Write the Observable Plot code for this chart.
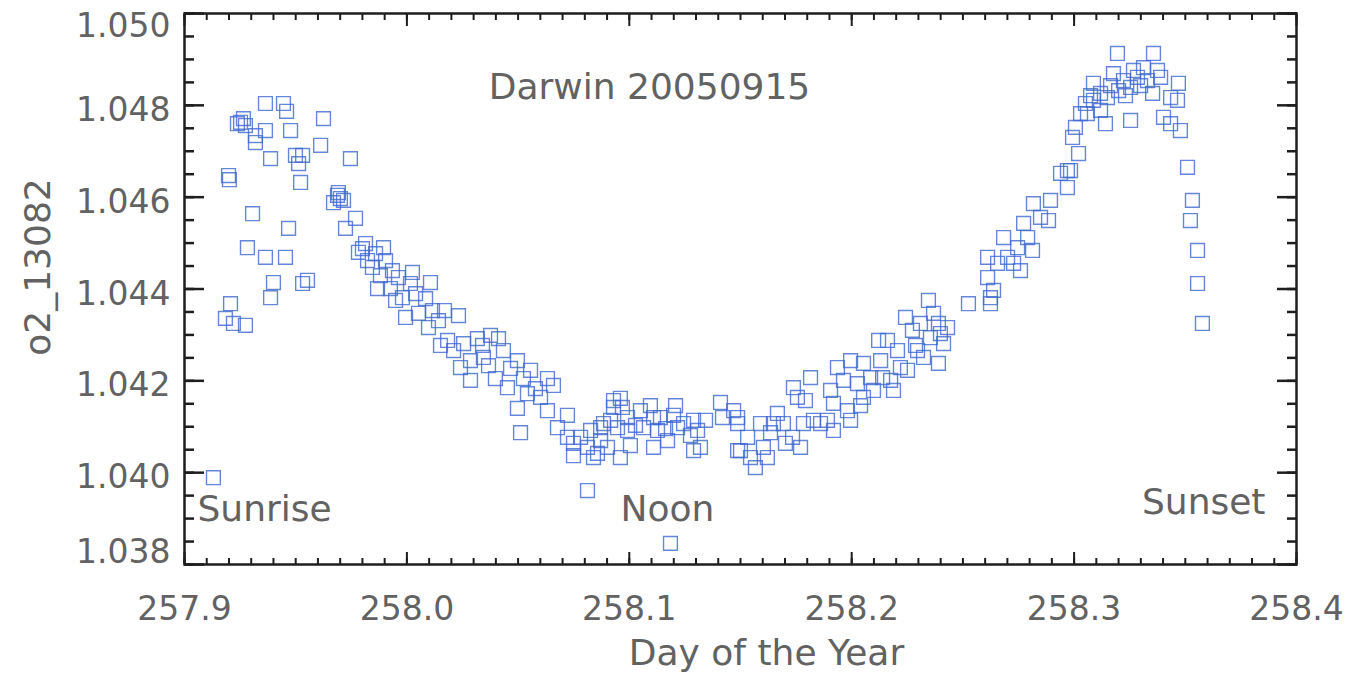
<!DOCTYPE html>
<html>
<head>
<meta charset="utf-8">
<script src="https://cdn.jsdelivr.net/npm/d3@7"></script>
<script src="https://cdn.jsdelivr.net/npm/@observablehq/plot@0.6"></script>
<style>
  html, body { margin: 0; padding: 0; background: #fff; }
</style>
</head>
<body>
<div id="chart"></div>
<script>
// O2 ratio (o2_13082) at Darwin on 2005-09-15, by fractional day of year: [day, ratio]
const sunrise = [
  [257.9130, 1.03989], [257.9198, 1.04647], [257.9202, 1.04638], [257.9364, 1.04804], [257.9445, 1.04804],
  [257.9459, 1.04787], [257.9252, 1.04763], [257.9274, 1.04756], [257.9319, 1.04734], [257.9364, 1.04745],
  [257.9319, 1.04719], [257.9477, 1.04745], [257.9625, 1.04771], [257.9387, 1.04684], [257.9499, 1.04691],
  [257.9531, 1.04691], [257.9513, 1.04673], [257.9612, 1.04713], [257.9746, 1.04684], [257.9522, 1.04632],
  [257.9688, 1.04604], [257.9670, 1.04588], [257.9701, 1.04597], [257.9769, 1.04554], [257.9724, 1.04532],
  [257.9306, 1.04564], [257.9468, 1.04532], [257.9283, 1.04490], [257.9364, 1.04469], [257.9454, 1.04469],
  [257.9400, 1.04414], [257.9387, 1.04381], [257.9553, 1.04419], [257.9531, 1.04412], [257.9207, 1.04368],
  [257.9184, 1.04336], [257.9220, 1.04325], [257.9274, 1.04321], [257.9238, 1.04760], [257.9265, 1.04771],
  [257.9692, 1.04610], [257.9715, 1.04593]
];
const morning = [
  [257.9814, 1.04499], [257.9859, 1.04477], [257.9895, 1.04490], [257.9823, 1.04462], [257.9845, 1.04447],
  [257.9904, 1.04462], [257.9868, 1.04401], [257.9926, 1.04401], [257.9962, 1.04425], [258.0025, 1.04436],
  [257.9980, 1.04381], [258.0039, 1.04390], [258.0106, 1.04414], [257.9994, 1.04338], [258.0052, 1.04347],
  [258.0115, 1.04353], [258.0142, 1.04331], [258.0097, 1.04316], [257.9800, 1.04488], [257.9935, 1.04440],
  [258.0016, 1.04412], [258.0084, 1.04379], [258.0169, 1.04353], [257.9949, 1.04375], [257.9782, 1.04480],
  [257.9881, 1.04429]
];
const lateMorning = [
  [258.0232, 1.04342], [258.0183, 1.04288], [258.0210, 1.04266], [258.0255, 1.04281], [258.0317, 1.04292],
  [258.0376, 1.04299], [258.0412, 1.04292], [258.0286, 1.04244], [258.0344, 1.04251], [258.0434, 1.04266],
  [258.0497, 1.04244], [258.0241, 1.04229], [258.0286, 1.04201], [258.0398, 1.04205], [258.0452, 1.04185],
  [258.0524, 1.04205], [258.0632, 1.04205], [258.0659, 1.04190], [258.0542, 1.04172], [258.0497, 1.04140],
  [258.0601, 1.04164], [258.0632, 1.04135], [258.0511, 1.04087], [258.0722, 1.04125], [258.0677, 1.04098],
  [258.0722, 1.04077], [258.0749, 1.04064], [258.0749, 1.04037], [258.0781, 1.04077], [258.0812, 1.04055],
  [258.0857, 1.04042], [258.0871, 1.04098], [258.0902, 1.04055], [258.0340, 1.04277], [258.0466, 1.04227],
  [258.0556, 1.04223], [258.0578, 1.04183], [258.0151, 1.04277], [258.0367, 1.04233]
];
const noon = [
  [258.0929, 1.04157], [258.0960, 1.04162], [258.0929, 1.04142], [258.0969, 1.04142], [258.0916, 1.04114],
  [258.0947, 1.04098], [258.0884, 1.04107], [258.0992, 1.04120], [258.0992, 1.04092], [258.1050, 1.04135],
  [258.1064, 1.04098], [258.1109, 1.04120], [258.1127, 1.04092], [258.1140, 1.04120], [258.1199, 1.04125],
  [258.1217, 1.04098], [258.1244, 1.04107], [258.1289, 1.04114], [258.1307, 1.04092], [258.0960, 1.04033],
  [258.0839, 1.04033], [258.1109, 1.04055], [258.1172, 1.04070], [258.1289, 1.04048], [258.1320, 1.04055],
  [258.0812, 1.03961], [258.1185, 1.03846], [258.1410, 1.04153], [258.1419, 1.04120], [258.1487, 1.04120],
  [258.1487, 1.04048], [258.0826, 1.04092], [258.0871, 1.04070], [258.1005, 1.04059], [258.1095, 1.04146],
  [258.1208, 1.04146], [258.1275, 1.04081], [258.1343, 1.04114], [258.1028, 1.04103], [258.1163, 1.04096]
];
const afternoon = [
  [258.1469, 1.04135], [258.1487, 1.04107], [258.1500, 1.04048], [258.1532, 1.04077], [258.1545, 1.04033],
  [258.1567, 1.04011], [258.1590, 1.04107], [258.1603, 1.04055], [258.1621, 1.04033], [258.1648, 1.04107],
  [258.1666, 1.04129], [258.1693, 1.04107], [258.1702, 1.04064], [258.1734, 1.04077], [258.1738, 1.04185],
  [258.1756, 1.04164], [258.1770, 1.04055], [258.1783, 1.04107], [258.1815, 1.04207], [258.1828, 1.04114],
  [258.1860, 1.04107], [258.1891, 1.04114], [258.1905, 1.04179], [258.1918, 1.04151], [258.1918, 1.04092],
  [258.1936, 1.04229], [258.1963, 1.04201], [258.1981, 1.04135], [258.1995, 1.04244], [258.1995, 1.04114],
  [258.2026, 1.04194], [258.2053, 1.04238], [258.2053, 1.04164], [258.2085, 1.04207], [258.2098, 1.04179],
  [258.2121, 1.04288], [258.2139, 1.04207], [258.2161, 1.04288], [258.2175, 1.04201], [258.2188, 1.04179],
  [258.2206, 1.04266], [258.2219, 1.04229], [258.2242, 1.04338], [258.2251, 1.04223], [258.2273, 1.04310],
  [258.2296, 1.04266], [258.2309, 1.04325], [258.2323, 1.04251], [258.2345, 1.04375], [258.2354, 1.04294],
  [258.2368, 1.04347], [258.2390, 1.04325], [258.2390, 1.04238], [258.2413, 1.04281], [258.2431, 1.04316],
  [258.2525, 1.04368], [258.2130, 1.04244], [258.2287, 1.04277], [258.2399, 1.04303], [258.1792, 1.04157],
  [258.1635, 1.04087], [258.2040, 1.04146]
];
const sunset = [
  [258.2611, 1.04469], [258.2611, 1.04425], [258.2624, 1.04368], [258.2638, 1.04397], [258.2656, 1.04456],
  [258.2683, 1.04512], [258.2701, 1.04469], [258.2624, 1.04381], [258.2728, 1.04456], [258.2746, 1.04490],
  [258.2759, 1.04440], [258.2773, 1.04543], [258.2791, 1.04512], [258.2813, 1.04484], [258.2817, 1.04586],
  [258.2849, 1.04556], [258.2885, 1.04549], [258.2894, 1.04593], [258.2939, 1.04652], [258.2970, 1.04621],
  [258.2970, 1.04658], [258.2984, 1.04658], [258.3020, 1.04695], [258.2993, 1.04730], [258.3006, 1.04752],
  [258.3029, 1.04782], [258.3051, 1.04804], [258.3060, 1.04782], [258.3087, 1.04848], [258.3087, 1.04811],
  [258.3119, 1.04826], [258.3119, 1.04789], [258.3141, 1.04760], [258.3150, 1.04817], [258.3177, 1.04869],
  [258.3195, 1.04913], [258.3200, 1.04832], [258.3222, 1.04854], [258.3254, 1.04767], [258.3254, 1.04839],
  [258.3285, 1.04861], [258.3312, 1.04882], [258.3330, 1.04854], [258.3353, 1.04826], [258.3357, 1.04913],
  [258.3375, 1.04876], [258.3389, 1.04861], [258.3402, 1.04774], [258.3434, 1.04817], [258.3465, 1.04811],
  [258.3469, 1.04848], [258.3434, 1.04760], [258.3478, 1.04745], [258.3510, 1.04665], [258.3532, 1.04593],
  [258.3523, 1.04549], [258.3555, 1.04484], [258.3555, 1.04412], [258.3577, 1.04325],
  [258.3074, 1.04821], [258.3164, 1.04843], [258.3231, 1.04821], [258.3299, 1.04843], [258.3267, 1.04876]
];

// Axis ticks and labels
const xMajor = [257.9, 258.0, 258.1, 258.2, 258.3, 258.4];
const yMajor = [1.038, 1.040, 1.042, 1.044, 1.046, 1.048, 1.050];
const xMinor = d3.range(0, 51).map(i => +(257.9 + i * 0.01).toFixed(2));
const yMinor = d3.range(0, 25).map(i => +(1.038 + i * 0.0005).toFixed(4));

const titleText = "Darwin 20050915";
const xLabel = "Day of the Year";
const yLabel = "o2_13082";
const notes = { sunrise: "Sunrise", noon: "Noon", sunset: "Sunset" };

const points = [...sunrise, ...morning, ...lateMorning, ...noon, ...afternoon, ...sunset]
  .map(([day, o2]) => ({ day, o2 }));

const ink = "#1e1e1e";
const grey = "#626262";
const font = "DejaVu Sans";
const blank = () => "";

// Inward-pointing tick marks on all four sides of the frame
const tickMarks = [
  Plot.axisX(xMajor, { anchor: "bottom", tickSize: -12, tickFormat: blank, color: ink, strokeWidth: 2 }),
  Plot.axisX(xMinor, { anchor: "bottom", tickSize: -6, tickFormat: blank, color: ink, strokeWidth: 2 }),
  Plot.axisX(xMajor, { anchor: "top", tickSize: -12, tickFormat: blank, color: ink, strokeWidth: 2 }),
  Plot.axisX(xMinor, { anchor: "top", tickSize: -6, tickFormat: blank, color: ink, strokeWidth: 2 }),
  Plot.axisY(yMajor, { anchor: "left", tickSize: -20, tickFormat: blank, color: ink, strokeWidth: 2.5 }),
  Plot.axisY(yMinor, { anchor: "left", tickSize: -10, tickFormat: blank, color: ink, strokeWidth: 2.5 }),
  Plot.axisY(yMajor, { anchor: "right", tickSize: -20, tickFormat: blank, color: ink, strokeWidth: 2.5 }),
  Plot.axisY(yMinor, { anchor: "right", tickSize: -10, tickFormat: blank, color: ink, strokeWidth: 2.5 })
];

// Tick labels (the outermost y labels sit slightly inside their ticks)
const yInner = yMajor.slice(1, -1);
const labelMarks = [
  Plot.axisX(xMajor, { anchor: "bottom", tickSize: 0, tickPadding: 32, tickFormat: d3.format(".1f"), color: grey, fontSize: 33 }),
  Plot.axisY(yInner, { anchor: "left", tickSize: 0, tickPadding: 14, tickFormat: d3.format(".3f"), color: grey, fontSize: 33, dy: 5 }),
  Plot.axisY([yMajor[yMajor.length - 1]], { anchor: "left", tickSize: 0, tickPadding: 14, tickFormat: d3.format(".3f"), color: grey, fontSize: 33, dy: 13 }),
  Plot.axisY([yMajor[0]], { anchor: "left", tickSize: 0, tickPadding: 14, tickFormat: d3.format(".3f"), color: grey, fontSize: 33, dy: -12 })
];

const textStyle = { lineAnchor: "middle", fontSize: 36, fill: grey };
const textMarks = [
  Plot.text([titleText], { ...textStyle, frameAnchor: "top", textAnchor: "middle", dx: -91, dy: 73.5 }),
  Plot.text([notes.sunrise], { ...textStyle, frameAnchor: "bottom-left", textAnchor: "start", dx: 13, dy: -55 }),
  Plot.text([notes.noon], { ...textStyle, frameAnchor: "bottom", textAnchor: "middle", dx: -73, dy: -55 }),
  Plot.text([notes.sunset], { ...textStyle, frameAnchor: "bottom-right", textAnchor: "end", dx: -31, dy: -62 }),
  Plot.text([xLabel], { ...textStyle, frameAnchor: "bottom", textAnchor: "middle", dx: 26, dy: 89 }),
  Plot.text([yLabel], { ...textStyle, frameAnchor: "left", textAnchor: "middle", rotate: -90, dx: -146, dy: -22 })
];

const chart = Plot.plot({
  width: 1359,
  height: 675,
  marginLeft: 184,
  marginRight: 63,
  marginTop: 13,
  marginBottom: 111,
  style: { fontFamily: font, fontSize: "33px", background: "#fff", color: grey },
  x: { domain: [257.9, 258.4], label: null },
  y: { domain: [1.038, 1.050], label: null },
  marks: [
    Plot.dot(points, {
      x: "day", y: "o2", symbol: "square", r: 7.8,
      fill: "none", stroke: "#3f68d0", strokeWidth: 1.4, strokeOpacity: 0.8
    }),
    ...tickMarks,
    Plot.frame({ stroke: ink, strokeWidth: 2.5 }),
    ...labelMarks,
    ...textMarks
  ]
});

document.getElementById("chart").append(chart);
</script>
</body>
</html>
